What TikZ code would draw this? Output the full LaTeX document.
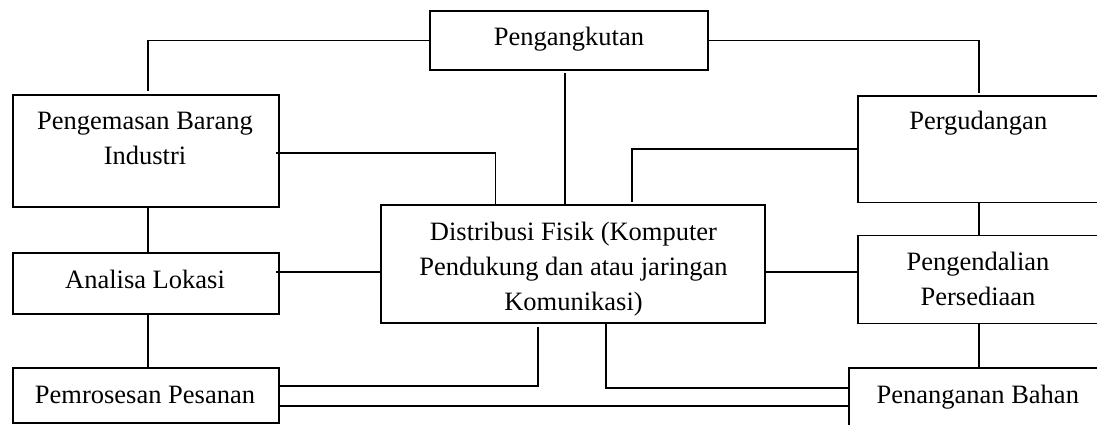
\documentclass[tikz,border=0pt]{standalone}
\usepackage{fontspec}
\setmainfont{Liberation Serif}
\usetikzlibrary{calc}
\tikzset{
  box/.style={draw, line width=1.6pt, rectangle, inner sep=0pt, outer sep=0pt},
  lbl/.style={anchor=base, inner sep=0pt, font=\fontsize{26.5}{35}\selectfont},
  conn/.style={line width=1.6pt}
}
\newcommand{\ml}[1]{\begin{tabular}[t]{@{}c@{}}#1\end{tabular}}
\begin{document}
\begin{tikzpicture}[x=1pt,y=-1pt]
\useasboundingbox (0,0) rectangle (1097,425);
\clip (0,0) rectangle (1097,425);
% boxes
\node[box, minimum width=278pt, minimum height=59pt] (angkut) at (569,40.5) {};
\node[box, minimum width=266pt, minimum height=112pt] (kemas) at (146,151) {};
\node[box, minimum width=266pt, minimum height=61pt] (lokasi) at (146,283.5) {};
\node[box, minimum width=266pt, minimum height=55pt] (proses) at (146,395.5) {};
\node[box, minimum width=384pt, minimum height=118pt] (dist) at (573,264) {};
\node[box, minimum width=242pt, minimum height=106.5pt] (gudang) at (979,149.25) {};
\node[box, minimum width=242pt, minimum height=88pt] (kendali) at (979,279.5) {};
\node[box, minimum width=261pt, minimum height=72pt] (tangan) at (979.5,404) {};
% texts
\node[lbl] (tangkut) at (569,45.7) {Pengangkutan};
\node[lbl] (tkemas) at (145,130) {\ml{Pengemasan Barang\\Industri}};
\node[lbl] (tlokasi) at (145,288.3) {Analisa Lokasi};
\node[lbl] (tproses) at (145,403.3) {Pemrosesan Pesanan};
\node[lbl] (tdist) at (573.5,240) {\ml{Distribusi Fisik (Komputer\\Pendukung dan atau jaringan\\Komunikasi)}};
\node[lbl] (tgudang) at (978.3,130) {Pergudangan};
\node[lbl] (tkendali) at (978,270.7) {\ml{Pengendalian\\Persediaan}};
\node[lbl] (ttangan) at (977.8,403.3) {Penanganan Bahan};
% connectors
\draw[conn, shorten >=4pt] (angkut.west) -| ([xshift=1.7pt]kemas.north);
\draw[conn] ($(kemas.east)+(-3,2)$) -| ($(dist.north west)+(114.3,0)$);
\draw[conn, shorten <=3pt] ([xshift=-4pt]angkut.south) -- ([xshift=-4pt]angkut.south |- dist.north);
\draw[conn, shorten >=3pt] (gudang.west) -| ($(dist.north west)+(251,0)$);
\draw[conn, shorten >=2.5pt] (angkut.east) -| (gudang.north);
\draw[conn] ([xshift=1.7pt]kemas.south) -- ([xshift=1.7pt]lokasi.north);
\draw[conn] ($(lokasi.east)+(-3,-11.5)$) coordinate (l7) -- (l7 -| dist.west);
\draw[conn] ([xshift=1.7pt]lokasi.south) -- ([xshift=1.7pt]proses.north);
\draw[conn, shorten <=4pt] ($(dist.south west)+(157,0)$) |- ($(proses.east)+(0,-9.8)$);
\draw[conn] ($(proses.east)+(0,10.2)$) coordinate (l10) -- (l10 -| tangan.west);
\draw[conn] ($(dist.south west)+(225,0)$) |- ($(tangan.west)+(0,-16.3)$);
\draw[conn] (gudang.south) -- (kendali.north);
\draw[conn] ($(dist.east)+(0,7.7)$) coordinate (l13) -- (l13 -| kendali.west);
\draw[conn] (kendali.south) -- ([xshift=-0.5pt]tangan.north);
\end{tikzpicture}
\end{document}
